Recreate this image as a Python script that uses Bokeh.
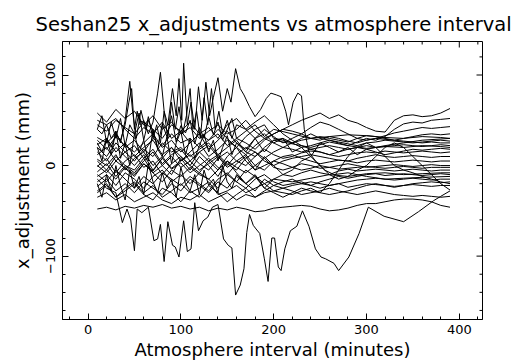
import math
from bokeh.plotting import figure
from bokeh.models import Range1d, FixedTicker, CustomJSTickFormatter
from bokeh.embed import file_html
from bokeh.resources import INLINE

# ---------------- data ----------------
TIME = [10, 20, 30, 40, 50, 60, 70, 80, 90, 100,
        110, 120, 130, 140, 150, 160, 170, 180, 190, 200,
        210, 220, 230, 240, 250, 260, 270, 280, 290, 300,
        310, 320, 330, 340, 350, 360, 370, 380, 390]

s01 = [58, 48, 62, 52, 60, 45, 55, 40, 48, 35, 42, 30, 38, 45, 35, 40, 50, 38, 30, 35,
       40, 45, 50, 54, 58, 52, 56, 50, 47, 42, 38, 37, 50, 55, 56, 54, 55, 58, 63]
s02 = [50, 45, 52, 40, 30, 42, 35, 48, 30, 38, 25, 35, 28, 40, 30, 20, 32, 40, 45, 30,
       28, 25, 30, 35, 30, 28, 25, 22, 26, 30, 28, 32, 40, 46, 48, 47, 50, 51, 52]
s03 = [31, 25, 35, 20, 28, 15, 30, 22, 35, 25, 30, 20, 28, 35, 22, 30, 25, 18, 28, 35,
       40, 38, 35, 42, 48, 45, 40, 35, 30, 28, 30, 33, 36, 38, 40, 42, 41, 42, 43]
s04 = [23, 30, 15, 25, 10, 20, 28, 12, 20, 5, 15, 25, 10, 18, 28, 20, 12, 22, 30, 25,
       20, 25, 28, 30, 32, 30, 28, 26, 30, 33, 32, 30, 28, 30, 32, 34, 35, 34, 35]
s05 = [20, 10, 25, 15, 5, 18, 10, 25, 15, 20, 10, 18, 25, 12, 20, 28, 15, 10, 20, 28,
       30, 25, 20, 22, 25, 28, 26, 24, 22, 25, 26, 28, 27, 26, 25, 26, 27, 28, 27]
s06 = [12, 20, 5, 15, 22, 8, 18, 2, 12, 18, 5, 15, 22, 10, 0, 12, 20, 15, 8, 15,
       20, 18, 15, 18, 20, 22, 20, 18, 20, 22, 20, 21, 22, 23, 22, 21, 22, 23, 22]
s07 = [7, 0, 12, -5, 8, 15, 0, 10, -3, 5, 12, 2, -5, 8, 15, 5, 0, 10, 18, 12,
       8, 10, 14, 16, 15, 12, 10, 12, 14, 15, 14, 16, 15, 14, 15, 16, 15, 14, 15]
s08 = [-1, 8, -8, 5, 12, -2, 5, -10, 2, 10, 0, -8, 5, 12, 2, -5, 8, 15, 5, 0,
       5, 8, 10, 12, 10, 8, 6, 5, 8, 10, 12, 10, 9, 10, 11, 10, 9, 10, 10]
s09 = [-7, 2, -12, 0, -5, 8, -8, 0, 10, -2, 5, -5, 2, 10, -2, 5, 12, 0, -5, 5,
       10, 12, 8, 5, 2, 4, 6, 5, 3, 5, 6, 5, 4, 5, 6, 5, 4, 5, 5]
s10 = [-12, -5, -15, -2, -10, 2, -8, -18, -5, -12, -2, -10, -15, -5, 5, -2, -8, 0, 8, -2,
       -5, -2, 2, 0, -3, -2, 0, 2, 0, -2, -1, 0, 1, 0, -1, 0, 1, 0, 0]
s11 = [-18, -10, -22, -8, -15, -25, -12, -5, -18, -10, -20, -8, -15, -25, -10, -18, -5, -12, -20, -15,
       -10, -12, -8, -5, -8, -10, -6, -4, -6, -5, -4, -5, -6, -5, -4, -5, -6, -5, -5]
s12 = [-23, -15, -28, -20, -30, -18, -25, -32, -20, -28, -15, -22, -30, -18, -25, -12, -20, -28, -15, -22,
       -18, -15, -20, -22, -18, -15, -12, -14, -12, -10, -9, -11, -10, -9, -10, -11, -10, -9, -10]
s13 = [-28, -20, -35, -25, -18, -30, -22, -35, -28, -20, -30, -25, -18, -32, -28, -22, -30, -25, -20, -28,
       -25, -22, -20, -18, -20, -22, -20, -18, -16, -15, -14, -15, -16, -15, -14, -15, -16, -15, -15]
s14 = [-35, -30, -38, -32, -40, -35, -30, -38, -42, -35, -38, -32, -40, -35, -30, -38, -32, -35, -30, -28,
       -30, -32, -28, -25, -30, -32, -30, -28, -25, -22, -20, -22, -24, -22, -20, -19, -18, -19, -18]
s15 = [-48, -46, -49, -45, -47, -44, -46, -43, -47, -45, -48, -46, -50, -47, -49, -46, -48, -51, -50, -47,
       -46, -45, -44, -45, -48, -50, -49, -47, -44, -42, -42, -40, -38, -37, -37, -38, -40, -44, -46]
s16 = [5, -5, 10, 0, -8, 5, 15, 0, -10, 8, -5, 10, 0, -12, 5, -8, -20, -10, -25, -30,
       -35, -30, -25, -28, -30, -20, -5, 10, 20, 25, 20, 10, 0, -5, -8, -12, -15, -18, -20]
s17 = [15, 5, 20, 10, 0, 12, -5, 8, 20, 10, 0, 15, 5, -5, 10, 20, 5, -5, 10, 0,
       -10, -5, 5, 10, 0, -10, -15, -12, -5, 0, 10, 20, 25, 20, 10, 0, -10, -20, -27]
s18 = [-30, -22, -35, -28, -20, -32, -38, -25, -30, -40, -28, -35, -22, -30, -40, -32, -25, -35, -28, -22,
       -25, -28, -32, -30, -28, -25, -28, -30, -32, -30, -28, -30, -32, -33, -34, -33, -34, -35, -34]
s19 = [-10, -18, -5, -15, -25, -12, -20, -8, -15, -22, -12, -20, -28, -15, -8, -18, -25, -15, -10, -18,
       -22, -20, -18, -22, -25, -22, -20, -24, -22, -20, -21, -22, -23, -22, -21, -22, -23, -22, -22]
s20 = [45, 38, 50, 42, 35, 48, 40, 30, 45, 38, 48, 35, 42, 30, 45, 52, 40, 48, 55, 45,
       35, 28, 22, 18, 15, 12, 15, 18, 20, 18, 15, 12, 14, 16, 18, 17, 18, 19, 18]
s21 = [0, -8, 5, -3, -12, 2, -6, 8, -4, 3, -8, 0, 8, -2, -10, 2, 10, -5, 0, 5,
       2, -2, -5, -3, 0, -2, -4, -3, -2, -1, -2, -3, -2, -1, -2, -3, -2, -2, -2]
s22 = [28, 18, 32, 22, 15, 25, 35, 20, 28, 15, 25, 35, 18, 28, 38, 25, 15, 30, 40, 32,
       25, 30, 35, 30, 28, 32, 30, 27, 25, 28, 30, 29, 28, 27, 26, 25, 26, 25, 25]

# finer sampled, very jagged series
JT = [10, 15, 20, 25, 30, 35, 40, 45, 50, 55, 60, 65, 70, 75, 80, 85, 90, 95, 100, 105,
      110, 115, 120, 125, 130, 135, 140, 145, 150, 155, 160, 170, 180, 190, 200,
      220, 240, 260, 280, 300, 320, 340, 360, 380, 390]
j1 = [20, 5, 30, 12, 38, 8, 25, 0, 35, 15, 28, 5, 40, 18, 10, 32, 2, 25, 38, 12,
      30, 8, 22, 35, 15, 28, 5, 20, 33, 12, 25, 18, 30, 15, 28,
      24, 20, 26, 22, 19, 21, 20, 22, 21, 20]
j2 = [-20, -35, -10, -28, 0, -22, -38, -5, -25, -12, -32, 2, -18, -30, -8, -25, -15, -35, -2, -20,
      -28, -10, -32, -5, -22, -15, -30, 0, -18, -25, -10, -20, -12, -25, -15,
      -18, -14, -10, -12, -9, -8, -10, -9, -8, -8]
j3 = [40, 55, 25, 48, 30, 52, 22, 45, 35, 58, 28, 50, 38, 20, 46, 32, 55, 26, 44, 36,
      50, 24, 42, 30, 54, 34, 48, 28, 40, 52, 30, 38, 45, 32, 40,
      35, 30, 32, 34, 33, 31, 30, 32, 31, 30]

spike_a_t = [10, 15, 20, 25, 30, 35, 40, 44, 47, 50, 53, 56, 60, 65, 70, 75, 78, 82, 86, 91,
             95, 98, 101, 103, 107, 111, 115, 119, 123, 127, 131, 135, 140, 145, 150, 154, 159, 164, 168, 174,
             180, 186, 192, 197, 203, 208, 213, 216, 221, 226, 230, 233, 238, 245, 255, 265, 280, 300, 320, 340,
             360, 390]
spike_a_v = [25, 15, 30, 20, 35, 28, 45, 70, 85, 40, 60, 45, 50, 35, 48, 80, 103, 60, 45, 85,
             55, 96, 50, 113, 45, 70, 40, 87, 50, 92, 55, 75, 97, 60, 85, 70, 107, 85, 78, 65,
             54, 62, 74, 80, 78, 76, 60, 45, 70, 80, 77, 40, 15, 5, -5, -10, -8, -12, -15, -14,
             -13, -12]

spike_b_t = [10, 15, 20, 25, 30, 35, 40, 45, 48, 52, 57, 62, 65, 70, 74, 78, 82, 86, 90, 94,
             98, 102, 106, 110, 113, 117, 121, 125, 129, 133, 137, 141, 145, 150, 155, 160, 170, 180, 190, 200,
             210, 220, 230, 240, 250, 260, 270, 280, 290, 300, 320, 340, 360, 390]
spike_b_v = [40, 35, 45, 30, 38, 25, 50, 93, 60, 30, 61, 40, 54, 30, 45, 25, 60, 30, 70, 40,
             65, 35, 55, 85, 40, 60, 30, 75, 45, 85, 40, 60, 35, 50, 30, 45, 40, 30, 35, 25,
             30, 15, 20, 10, 25, 20, 15, 20, 12, 18, 22, 25, 28, 30]

dip_t = [10, 20, 30, 37, 42, 46, 50, 53, 58, 65, 71, 75, 78, 82, 86, 91, 94, 98, 103, 107,
         111, 115, 119, 124, 129, 134, 140, 146, 151, 155, 159, 164, 168, 171, 174, 178, 181, 185, 190, 194,
         198, 201, 205, 208, 212, 218, 225, 231, 238, 245, 251, 256, 265, 270, 281, 292, 302, 319, 340, 356,
         372, 380, 390]
dip_v = [-15, -25, -30, -63, -48, -60, -94, -48, -52, -46, -83, -81, -65, -106, -62, -88, -90, -101, -61, -95,
         -92, -41, -72, -61, -57, -46, -43, -81, -88, -91, -143, -132, -114, -74, -54, -66, -70, -75, -103, -128,
         -80, -80, -112, -116, -92, -72, -67, -50, -67, -92, -101, -103, -108, -116, -101, -75, -46, -56, -62, -51,
         -39, -34, -28]

X_RANGE = (-27.5, 425)
Y_RANGE = (-170, 137)
X_MAJOR = [0, 100, 200, 300, 400]
X_MINOR = [-20, 0, 20, 40, 60, 80, 100, 120, 140, 160, 180, 200, 220, 240, 260, 280,
           300, 320, 340, 360, 380, 400, 420]
Y_MAJOR = [-100, 0, 100]
Y_MINOR = [-160, -140, -120, -100, -80, -60, -40, -20, 0, 20, 40, 60, 80, 100, 120]

TITLE = "Seshan25 x_adjustments vs atmosphere interval"
X_LABEL = "Atmosphere interval (minutes)"
Y_LABEL = "x_adjustment (mm)"

SERIES = [s01, s02, s03, s04, s05, s06, s07, s08, s09, s10, s11,
          s12, s13, s14, s15, s16, s17, s18, s19, s20, s21, s22]
JAGGED = [j1, j2, j3]

# ---------------- figure ----------------
FONT = "DejaVu Sans"
W = 514
H = 362

p = figure(width=W, height=H, output_backend="svg", toolbar_location=None,
           x_range=Range1d(*X_RANGE), y_range=Range1d(*Y_RANGE),
           min_border_left=62, min_border_right=W - 482, min_border_top=41,
           min_border_bottom=41, margin=(0, 0, 0, 0))
p.background_fill_color = "white"
p.border_fill_color = "white"
p.outline_line_color = "black"
p.outline_line_width = 1
p.xgrid.visible = False
p.ygrid.visible = False

p.title.text = TITLE
p.title.text_font = FONT
p.title.text_font_size = "19.5px"
p.title.text_font_style = "normal"
p.title.text_color = "black"
p.title.align = "left"
p.title.offset = -27
p.title.standoff = 11

for s in SERIES:
    p.line(TIME, s, line_color="black", line_width=1)
for s in JAGGED:
    p.line(JT, s, line_color="black", line_width=1)
p.line(spike_a_t, spike_a_v, line_color="black", line_width=1)
p.line(spike_b_t, spike_b_v, line_color="black", line_width=1)
p.line(dip_t, dip_v, line_color="black", line_width=1)


def style(ax):
    ax.major_tick_in = 6
    ax.major_tick_out = 0
    ax.minor_tick_in = 3
    ax.minor_tick_out = 0
    ax.axis_line_color = "black"
    ax.major_tick_line_color = "black"
    ax.minor_tick_line_color = "black"
    ax.major_label_text_color = "black"
    ax.major_label_text_font = FONT
    ax.major_label_text_font_size = "13px"
    ax.axis_label_text_font = FONT
    ax.axis_label_text_font_size = "18px"
    ax.axis_label_text_font_style = "normal"
    ax.axis_label_text_color = "black"


xa = p.xaxis[0]
xa.ticker = FixedTicker(ticks=X_MAJOR, minor_ticks=X_MINOR)
style(xa)
xa.axis_label = X_LABEL
xa.major_label_standoff = 5
xa.axis_label_standoff = 2

ya = p.yaxis[0]
ya.ticker = FixedTicker(ticks=Y_MAJOR, minor_ticks=Y_MINOR)
style(ya)
ya.axis_label = Y_LABEL
ya.major_label_orientation = "parallel"
ya.major_label_standoff = 7
ya.axis_label_standoff = 11
ya.formatter = CustomJSTickFormatter(code="return tick < 0 ? '\u2212' + (-tick) : '' + tick;")

# inward ticks on the top and right edges of the frame
x_minor_only = [v for v in X_MINOR if v not in X_MAJOR]
y_minor_only = [v for v in Y_MINOR if v not in Y_MAJOR]
p.ray(x=X_MAJOR, y=[Y_RANGE[1]] * len(X_MAJOR), length=6, length_units="screen",
      angle=-math.pi / 2, line_color="black", line_width=1)
p.ray(x=x_minor_only, y=[Y_RANGE[1]] * len(x_minor_only), length=3, length_units="screen",
      angle=-math.pi / 2, line_color="black", line_width=1)
p.ray(x=[X_RANGE[1]] * len(Y_MAJOR), y=Y_MAJOR, length=6, length_units="screen",
      angle=math.pi, line_color="black", line_width=1)
p.ray(x=[X_RANGE[1]] * len(y_minor_only), y=y_minor_only, length=3, length_units="screen",
      angle=math.pi, line_color="black", line_width=1)

open("out.html", "w").write(file_html(p, INLINE))
